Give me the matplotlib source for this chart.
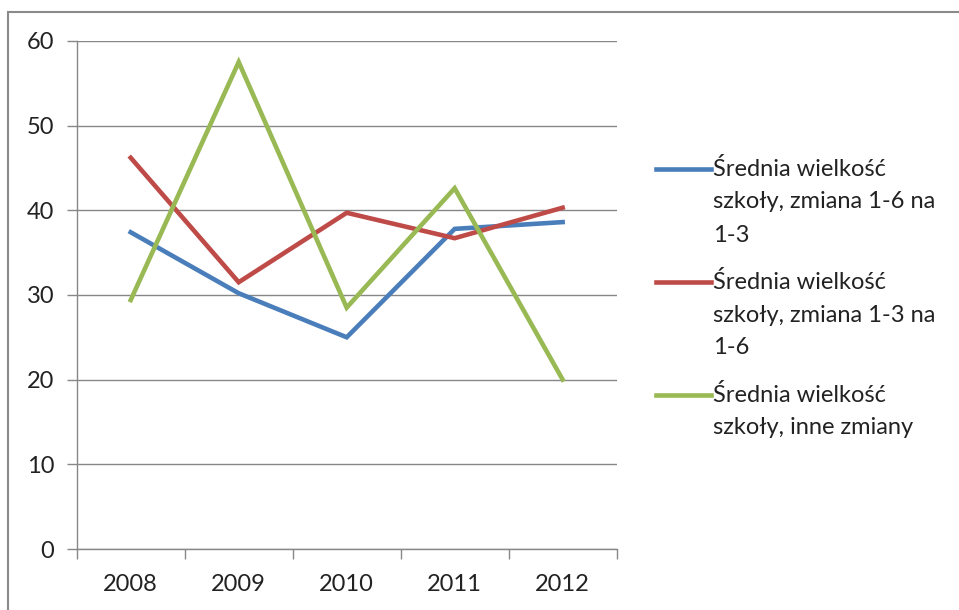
import matplotlib.pyplot as plt
from matplotlib.patches import Rectangle
from matplotlib.lines import Line2D

# data
years = ['2008', '2009', '2010', '2011', '2012']
blue_vals = [37.4, 30.2, 25.0, 37.8, 38.6]
red_vals = [46.2, 31.5, 39.7, 36.7, 40.3]
green_vals = [29.4, 57.5, 28.5, 42.6, 20.0]
labels = [['Średnia wielkość', 'szkoły, zmiana 1-6 na', '1-3'],
          ['Średnia wielkość', 'szkoły, zmiana 1-3 na', '1-6'],
          ['Średnia wielkość', 'szkoły, inne zmiany']]
colors = ['#4A7EBB', '#BE4B48', '#98B954']

plt.rcParams['font.family'] = ['Lato', 'DejaVu Sans']

W, H = 959, 610
fig = plt.figure(figsize=(W / 100, H / 100), dpi=100)
ax = fig.add_axes([0.080, 0.100, 0.563, 0.833])

x = list(range(len(years)))
for vals, c in zip([blue_vals, red_vals, green_vals], colors):
    ax.plot(x, vals, color=c, linewidth=3.3, solid_joinstyle='miter')

ax.set_xlim(-0.5, len(years) - 0.5)
ax.set_ylim(0, 60)
ax.set_yticks(range(0, 61, 10))
ax.set_xticks(x)
ax.set_xticklabels(years)
ax.set_xticks([i - 0.5 for i in range(len(years) + 1)], minor=True)
ax.tick_params(axis='x', which='major', length=0, pad=18, labelsize=17, colors='#222222')
ax.tick_params(axis='x', which='minor', length=7, color='#878787', width=1)
ax.tick_params(axis='y', length=7, color='#878787', width=1, pad=9, labelsize=17, colors='#222222')
ax.yaxis.grid(True, color='#878787', linewidth=1)
ax.set_axisbelow(True)
for s in ['top', 'right']:
    ax.spines[s].set_visible(False)
for s in ['left', 'bottom']:
    ax.spines[s].set_color('#878787')
    ax.spines[s].set_linewidth(1)

# legend drawn by hand so the line sits at the first text line
for i, (lab, c) in enumerate(zip(labels, colors)):
    y0 = 169 + 113 * i
    fig.add_artist(Line2D([656 / W, 711 / W], [1 - y0 / H, 1 - y0 / H],
                          color=c, linewidth=3.3, transform=fig.transFigure))
    for j, line in enumerate(lab):
        fig.text(713 / W, 1 - (y0 + 33 * j) / H, line, fontsize=17,
                 va='center', ha='left', color='#222222')

# outer chart border
fig.patches.append(Rectangle((0.008, -0.05), 1.1, 1.03, transform=fig.transFigure,
                             fill=False, edgecolor='#8a8a8a', linewidth=1.5))

fig.savefig('out.png', dpi=100)
